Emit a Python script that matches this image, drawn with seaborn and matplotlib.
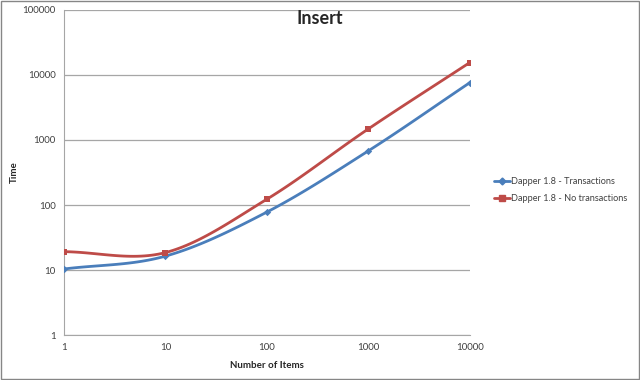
import matplotlib
matplotlib.use("Agg")
import matplotlib.pyplot as plt
from matplotlib.lines import Line2D
import pandas as pd
import numpy as np
import seaborn as sns

items = [1, 10, 100, 1000, 10000]
transactions = [10.4, 16.4, 78, 680, 7600]
no_transactions = [19.2, 18.6, 123, 1480, 15500]
series_names = ["Dapper 1.8 - Transactions", "Dapper 1.8 - No transactions"]
colors = ["#4A7EBB", "#BE4B48"]
markers = ["D", "s"]


def smooth(xs, ys, steps=30):
    # Catmull-Rom in log-log space, like Excel's smoothed line
    lx = np.log10(xs)
    ly = np.log10(ys)
    px = np.concatenate([[2 * lx[0] - lx[1]], lx, [2 * lx[-1] - lx[-2]]])
    py = np.concatenate([[2 * ly[0] - ly[1]], ly, [2 * ly[-1] - ly[-2]]])
    out_x, out_y = [], []
    t = np.linspace(0, 1, steps)
    for i in range(1, len(px) - 2):
        for p, out in ((px, out_x), (py, out_y)):
            p0, p1, p2, p3 = p[i - 1], p[i], p[i + 1], p[i + 2]
            out.extend(0.5 * (2 * p1 + (-p0 + p2) * t
                              + (2 * p0 - 5 * p1 + 4 * p2 - p3) * t ** 2
                              + (-p0 + 3 * p1 - 3 * p2 + p3) * t ** 3))
    return 10 ** np.array(out_x), 10 ** np.array(out_y)


sns.set_style("white")
plt.rcParams['font.family'] = ['Lato', 'DejaVu Sans']

fig = plt.figure(figsize=(6.4, 3.8), dpi=100)
ax = fig.add_axes([0.1, 0.118, 0.634, 0.856])

handles = []
for name, vals, c, m in zip(series_names, [transactions, no_transactions], colors, markers):
    sx, sy = smooth(items, vals)
    sns.lineplot(x=sx, y=sy, ax=ax, color=c, linewidth=2, sort=False, estimator=None)
    df = pd.DataFrame({"x": items, "y": vals})
    sns.scatterplot(data=df, x="x", y="y", ax=ax, color=c, marker=m,
                    s=22 if m == "s" else 14, edgecolor=c, linewidth=0, zorder=3)
    handles.append(Line2D([0], [0], color=c, lw=2, marker=m,
                          markersize=4 if m == "s" else 3.5))

ax.set_xscale("log")
ax.set_yscale("log")
ax.set_xlim(1, 10000)
ax.set_ylim(1, 100000)
ax.set_xticks(items)
ax.set_xticklabels([str(v) for v in items])
ax.set_yticks([1, 10, 100, 1000, 10000, 100000])
ax.set_yticklabels(["1", "10", "100", "1000", "10000", "100000"])
ax.minorticks_off()
ax.tick_params(axis="x", length=3, color="#868686", labelsize=7, labelcolor="#404040", pad=3)
ax.tick_params(axis="y", length=3, color="#868686", labelsize=7, labelcolor="#404040", pad=3)
ax.yaxis.grid(True, color="#A6A6A6", linewidth=0.9)
ax.xaxis.grid(False)
for side in ["top", "right"]:
    ax.spines[side].set_visible(False)
for side in ["left", "bottom"]:
    ax.spines[side].set_color("#A6A6A6")
ax.set_xlabel("Number of Items", fontsize=7, fontweight="bold", labelpad=6)
ax.set_ylabel("Time", fontsize=7, fontweight="bold")
ax.yaxis.set_label_coords(-0.11, 0.5)
fig.text(0.5, 0.952, "Insert", fontsize=13, fontweight="bold", ha="center", va="center")

fig.legend(handles, series_names, loc="center left", bbox_to_anchor=(0.772, 0.499),
           frameon=False, fontsize=6.6, handlelength=1.7, labelspacing=0.85,
           handletextpad=0.1, borderaxespad=0, borderpad=0, labelcolor="#404040")

fig.patches.append(plt.Rectangle((0.001, 0.002), 0.997, 0.995, transform=fig.transFigure,
                                 fill=False, edgecolor="#868686", linewidth=1))
fig.savefig("out.png", dpi=100)
